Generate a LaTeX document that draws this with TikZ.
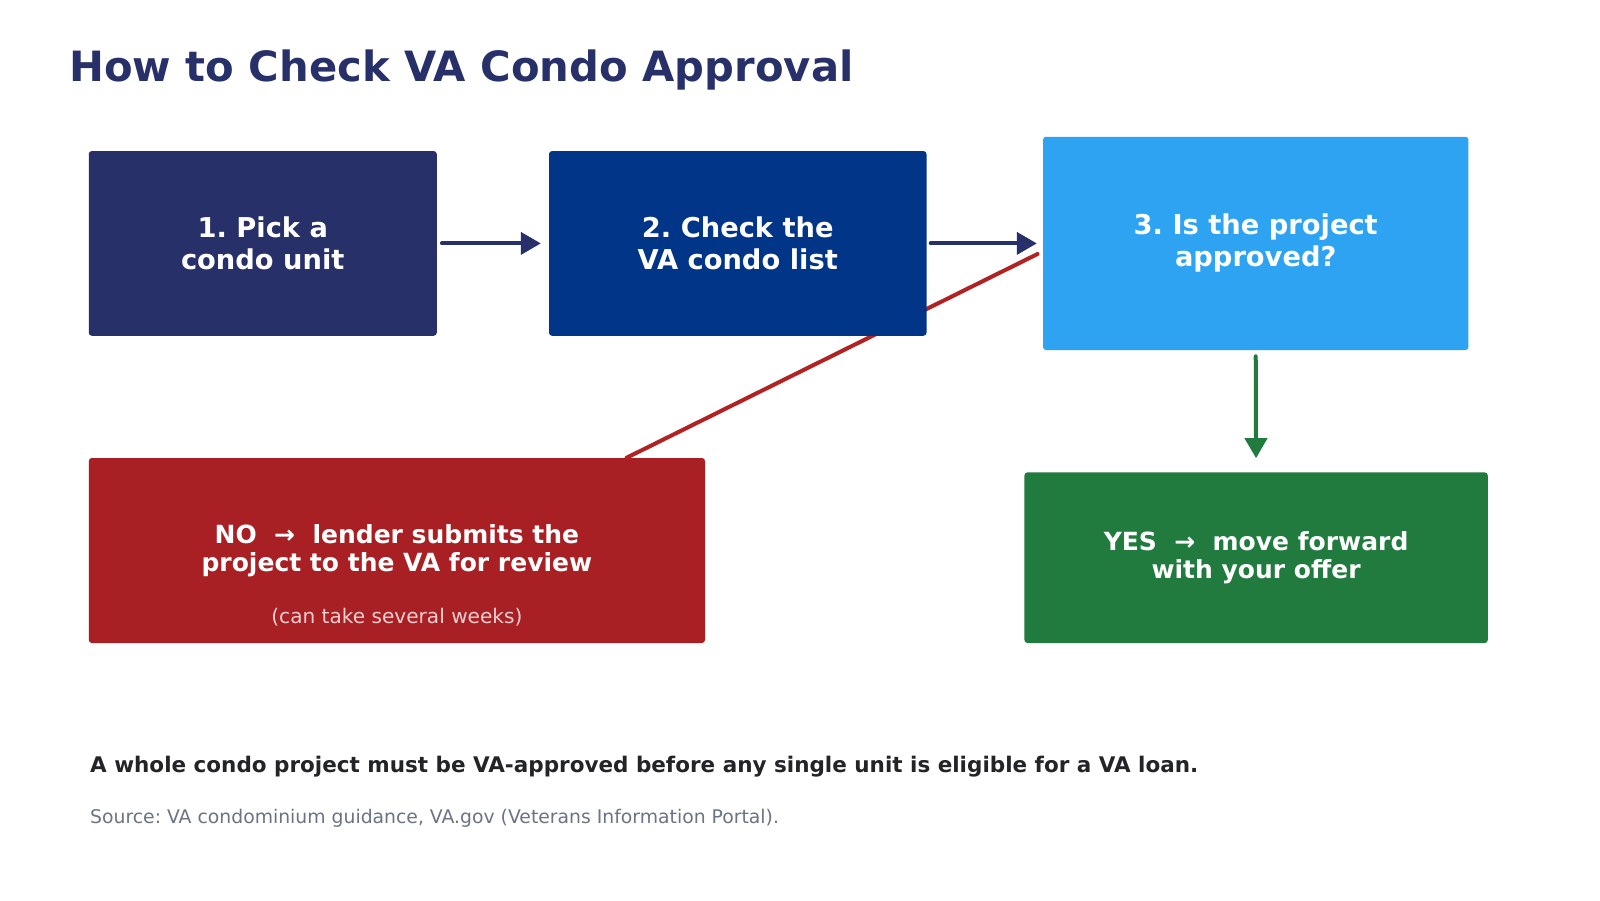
\documentclass[tikz,border=0pt]{standalone}
\usepackage{fontspec}
\setmainfont{DejaVu Sans}
\usetikzlibrary{arrows.meta,calc}
\frenchspacing
\definecolor{navy}{HTML}{283069}
\definecolor{royal}{HTML}{003587}
\definecolor{sky}{HTML}{2EA3F2}
\definecolor{nored}{HTML}{A81F24}
\definecolor{noline}{HTML}{B22222}
\definecolor{yesgreen}{HTML}{217A3E}
\definecolor{inkdark}{HTML}{222428}
\definecolor{inkgray}{HTML}{6B7385}
\definecolor{softpink}{HTML}{F2CFCF}
\tikzset{
  stepbox/.style={rounded corners=3pt, inner sep=0pt, align=center, text=white,
    font=\bfseries\fontsize{27.3}{32}\selectfont},
  outbox/.style={stepbox, font=\bfseries\fontsize{25}{28}\selectfont},
  flowarrow/.style={line width=4pt, line cap=round,
    -{Triangle[length=20pt,width=22pt]}},
}
\begin{document}
\begin{tikzpicture}[x=1pt,y=-1pt]
\useasboundingbox (0,0) rectangle (1600,900);
\fill[white] (0,0) rectangle (1600,900);

\node[anchor=base west, text=navy, font=\bfseries\fontsize{41.7}{50}\selectfont, inner sep=0pt]
  (title) at (69,81.5) {How to Check VA Condo Approval};

% process steps
\node[stepbox, fill=navy, minimum width=348pt, minimum height=184.7pt]
  (pick) at (262.75,243.4) {1. Pick a\\condo unit};
\node[stepbox, fill=sky, minimum width=425.4pt, minimum height=213.3pt]
  (approved) at (1255.7,243.4) {3. Is the project\\approved?};

% outcomes
\node[outbox, fill=nored, minimum width=616.2pt, minimum height=185pt]
  (nobox) at (396.9,550.5) {NO~~→~~lender submits the\\project to the VA for review};
\node[text=softpink, font=\fontsize{20.1}{24}\selectfont, inner sep=0pt]
  (nonote) at (396.9,617.5) {(can take several weeks)};
\node[outbox, fill=yesgreen, minimum width=463.3pt, minimum height=170.6pt]
  (yesbox) at (1256.1,557.7) {YES~~→~~move forward\\with your offer};

% the "no" branch runs behind step 2
\draw[noline, line width=4pt, line cap=round]
  ($(approved.west)+(-5.3,10.6)$) -- ($(nobox.north)+(229.6,0)$);

\node[stepbox, fill=royal, minimum width=377.5pt, minimum height=184.7pt]
  (check) at (737.75,243.4) {2. Check the\\VA condo list};

\draw[flowarrow, navy, shorten <=5pt, shorten >=8pt] (pick.east) -- (check.west);
\draw[flowarrow, navy, shorten <=4pt, shorten >=6pt] (check.east) -- (approved.west);
\draw[flowarrow, yesgreen, shorten <=6pt, shorten >=14pt] (approved.south) -- (yesbox.north);

% footer
\node[anchor=base west, text=inkdark, font=\bfseries\fontsize{21.5}{25}\selectfont, inner sep=0pt]
  (rule) at (90,772.5) {A whole condo project must be VA-approved before any single unit is eligible for a VA loan.};
\node[anchor=base west, text=inkgray, font=\fontsize{18.8}{22}\selectfont, inner sep=0pt]
  (source) at (90,823.5) {Source: VA condominium guidance, VA.gov (Veterans Information Portal).};
\end{tikzpicture}
\end{document}
